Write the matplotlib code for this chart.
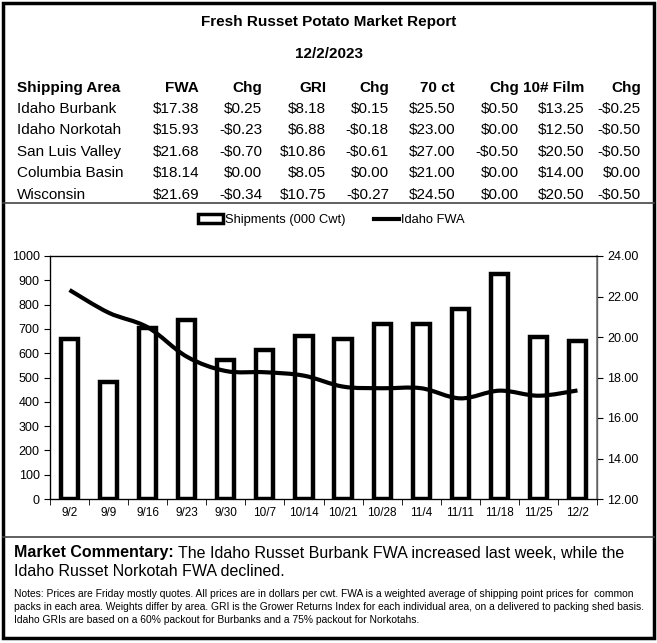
import matplotlib
matplotlib.use("Agg")
import matplotlib.pyplot as plt
from matplotlib.patches import Patch, Rectangle, PathPatch
from matplotlib.path import Path
from matplotlib.lines import Line2D
from matplotlib.ticker import FixedLocator, FuncFormatter

plt.rcParams['font.family'] = ['Liberation Sans', 'DejaVu Sans']

# table data
#
areas = ["Idaho Burbank", "Idaho Norkotah", "San Luis Valley", "Columbia Basin", "Wisconsin"]
col_headers = ["FWA", "Chg", "GRI", "Chg", "70 ct", "Chg", "10# Film", "Chg"]
fwa = ["$17.38", "$15.93", "$21.68", "$18.14", "$21.69"]
fwa_chg = ["$0.25", "-$0.23", "-$0.70", "$0.00", "-$0.34"]
gri = ["$8.18", "$6.88", "$10.86", "$8.05", "$10.75"]
gri_chg = ["$0.15", "-$0.18", "-$0.61", "$0.00", "-$0.27"]
ct70 = ["$25.50", "$23.00", "$27.00", "$21.00", "$24.50"]
ct70_chg = ["$0.50", "$0.00", "-$0.50", "$0.00", "$0.00"]
film10 = ["$13.25", "$12.50", "$20.50", "$14.00", "$20.50"]
film10_chg = ["-$0.25", "-$0.50", "-$0.50", "$0.00", "-$0.50"]

# chart data
#
weeks = ["9/2", "9/9", "9/16", "9/23", "9/30", "10/7", "10/14",
         "10/21", "10/28", "11/4", "11/11", "11/18", "11/25", "12/2"]
shipments = [658, 483, 704, 735, 572, 613, 670, 660, 722, 719, 781, 925, 666, 652]
idaho_fwa = [22.32, 21.20, 20.48, 19.03, 18.32, 18.26, 18.09,
             17.55, 17.47, 17.47, 16.97, 17.35, 17.10, 17.36]

W, H = 657, 643
fig = plt.figure(figsize=(W / 100, H / 100), dpi=100)

def fx(px):
  return px / W

def fy(py):
  return 1 - py / H

# frame and dividers
#
fig.patches.append(Rectangle((fx(3), fy(638)), fx(651), 635 / H,
  transform=fig.transFigure, fill=False, edgecolor="black", linewidth=2.5))
for yy in (203, 537):
  fig.add_artist(Line2D([fx(3), fx(654)], [fy(yy), fy(yy)],
    transform=fig.transFigure, color="#444444", linewidth=1.2))

# header texts
#
fig.text(0.5, fy(22), "Fresh Russet Potato Market Report", ha="center", va="center",
  fontsize=11, fontweight="bold")
fig.text(0.5, fy(54), "12/2/2023", ha="center", va="center",
  fontsize=11, fontweight="bold")

# table
#
col_right = [199, 262, 326, 389, 455, 519, 584, 641]
row_y = [109, 130, 152, 173, 195]
columns = [fwa, fwa_chg, gri, gri_chg, ct70, ct70_chg, film10, film10_chg]

fig.text(fx(17), fy(88), "Shipping Area", ha="left", va="center",
  fontsize=11, fontweight="bold")
for xr, hdr in zip(col_right, col_headers):
  fig.text(fx(xr), fy(88), hdr, ha="right", va="center", fontsize=11, fontweight="bold")

for i, area in enumerate(areas):
  fig.text(fx(17), fy(row_y[i]), area, ha="left", va="center", fontsize=11)
  for xr, col in zip(col_right, columns):
    fig.text(fx(xr), fy(row_y[i]), col[i], ha="right", va="center", fontsize=11)

# chart
#
ax = fig.add_axes([fx(50), fy(499), (597 - 50) / W, (499 - 256) / H])
x = list(range(len(weeks)))
ax.bar(x, shipments, width=0.44, facecolor="white", edgecolor="black",
  linewidth=3.2, zorder=2)
ax.set_xlim(-0.5, len(weeks) - 0.5)
ax.set_ylim(0, 1000)
ax.set_yticks(range(0, 1001, 100))
ax.set_xticks(x)
ax.set_xticklabels(weeks, fontsize=8.5)
ax.tick_params(axis="x", which="major", length=0, pad=6)
ax.xaxis.set_minor_locator(FixedLocator([i + 0.5 for i in range(-1, len(weeks))]))
ax.tick_params(axis="x", which="minor", length=4, direction="out")
ax.tick_params(axis="y", labelsize=9, length=4, direction="out")
for s in ax.spines.values():
  s.set_linewidth(0.9)

ax2 = ax.twinx()
ax2.set_ylim(12, 24)
ax2.set_xlim(ax.get_xlim())

# smoothed line through the points (catmull-rom style bezier, like excel)
#
pts = list(zip(x, idaho_fwa))
verts = [pts[0]]
codes = [Path.MOVETO]
for i in range(len(pts) - 1):
  p0 = pts[i - 1] if i > 0 else pts[i]
  p1 = pts[i]
  p2 = pts[i + 1]
  p3 = pts[i + 2] if i + 2 < len(pts) else pts[i + 1]
  c1 = (p1[0] + (p2[0] - p0[0]) / 6, p1[1] + (p2[1] - p0[1]) / 6)
  c2 = (p2[0] - (p3[0] - p1[0]) / 6, p2[1] - (p3[1] - p1[1]) / 6)
  verts += [c1, c2, p2]
  codes += [Path.CURVE4] * 3
ax2.add_patch(PathPatch(Path(verts, codes), facecolor="none", edgecolor="black",
  linewidth=3, capstyle="butt", zorder=3))

ax2.set_yticks(range(12, 25, 2))
ax2.yaxis.set_major_formatter(FuncFormatter(lambda v, p: f"{v:.2f}"))
ax2.tick_params(axis="y", labelsize=9, length=4, direction="out")
ax2.spines["right"].set_color("#777777")
ax2.spines["right"].set_linewidth(1.2)

# legend
#
handles = [
  Patch(facecolor="white", edgecolor="black", linewidth=2.5, label="Shipments (000 Cwt)"),
  Line2D([0], [0], color="black", linewidth=3, label="Idaho FWA")
]
fig.legend(handles=handles, loc="center", bbox_to_anchor=(fx(331), fy(220)),
  ncol=2, frameon=False, fontsize=9.3, handlelength=2.0, handletextpad=0.1,
  columnspacing=2.2, handleheight=0.6)

# commentary and notes
#
lbl = fig.text(fx(14), fy(553), "Market Commentary:", ha="left", va="center",
  fontsize=11.5, fontweight="bold")
renderer = fig.canvas.get_renderer()
bb = lbl.get_window_extent(renderer)
fig.text(bb.x1 / W + fx(4), fy(553),
  "The Idaho Russet Burbank FWA increased last week, while the",
  ha="left", va="center", fontsize=11.5)
fig.text(fx(14), fy(572), "Idaho Russet Norkotah FWA declined.", ha="left", va="center", fontsize=11.5)

notes = ("Notes: Prices are Friday mostly quotes. All prices are in dollars per cwt. FWA is a weighted average of shipping point prices for  common\n"
         "packs in each area. Weights differ by area. GRI is the Grower Returns Index for each individual area, on a delivered to packing shed basis.\n"
         "Idaho GRIs are based on a 60% packout for Burbanks and a 75% packout for Norkotahs.")
fig.text(fx(14), fy(589), notes, ha="left", va="top", fontsize=7.4, linespacing=1.38)

fig.savefig("out.png", dpi=100)
